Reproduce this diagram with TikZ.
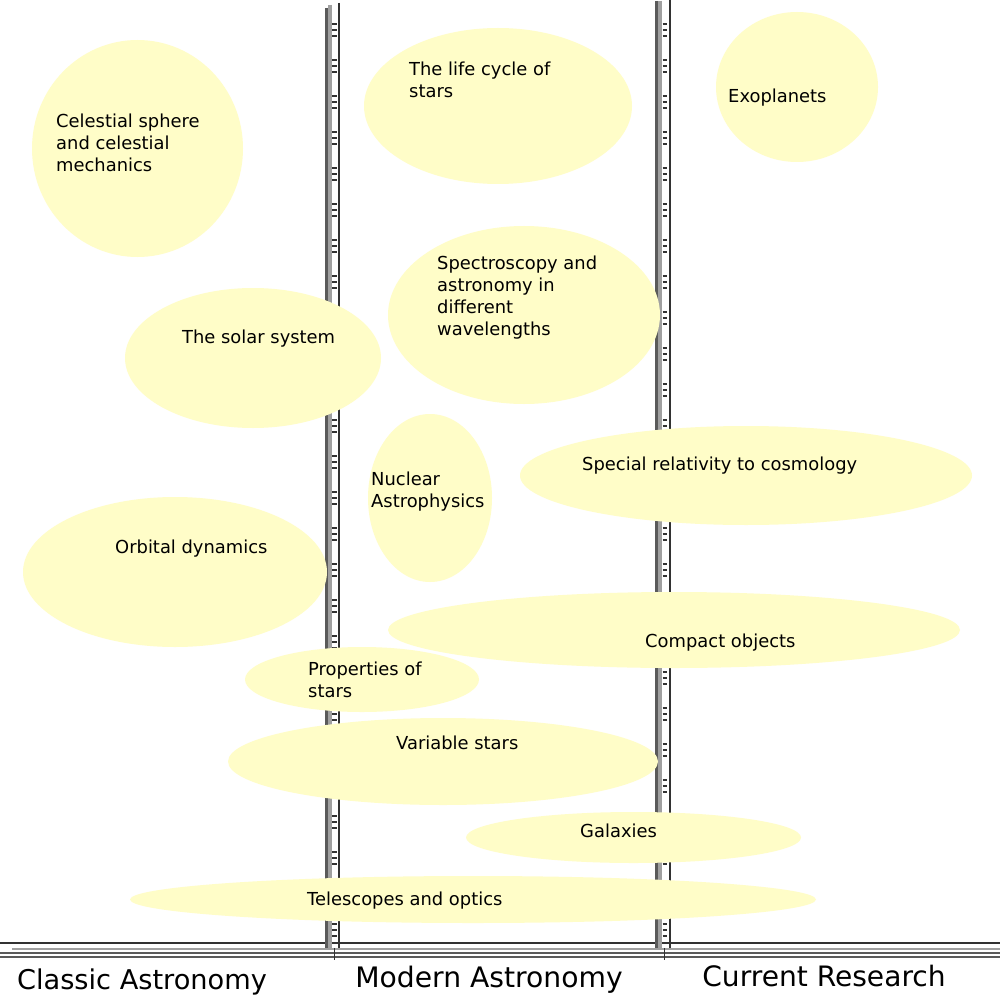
\documentclass[tikz,border=0pt]{standalone}
\usepackage{fontspec}
\setmainfont{DejaVu Sans}
\usetikzlibrary{shapes.geometric}
\definecolor{blobfill}{RGB}{255,253,200}
\definecolor{railA}{RGB}{90,90,90}
\definecolor{railB}{RGB}{160,160,160}
\definecolor{railC}{RGB}{50,50,50}
\tikzset{
  blob/.style={ellipse, fill=blobfill, draw=none, inner sep=0pt},
  lbl/.style={anchor=base west, inner sep=0pt, align=left, font=\fontsize{17.9}{22}\selectfont},
  ttl/.style={anchor=base, inner sep=0pt},
}
\begin{document}
\begin{tikzpicture}[x=1pt,y=-1pt]
\useasboundingbox (0,0) rectangle (1000,1000);
\fill[white] (0,0) rectangle (1000,1000);
% horizontal rails
\draw[railC, line width=2pt] (0,943) -- (1000,943);
\draw[railB, line width=2pt] (12,949) -- (1000,949);
\draw[railA, line width=2pt] (0,953) -- (1000,953);
\draw[railA, line width=1.5pt] (0,957) -- (1000,957);
% left vertical rail
\draw[railA, line width=3pt] (326,8) -- (326,948);
\draw[railB, line width=4pt] (330,5) -- (330,948);
\draw[railC, line width=2.2pt] (339,3) -- (339,948);
\draw[railC, line width=1pt] (334,948) -- (334,960);
% right vertical rail
\draw[railA, line width=3pt] (656,1) -- (656,948);
\draw[railB, line width=4pt] (660,1) -- (660,948);
\draw[railC, line width=2.2pt] (670,0) -- (670,948);
\draw[railC, line width=1pt] (664,948) -- (664,960);
% ticks
\foreach \k in {0,...,25}{
  \foreach \d in {0,6,12}{
    \draw[railC, line width=2pt] (332,24+36*\k+\d) -- (336.5,24+36*\k+\d);
    \draw[railC, line width=2pt] (662.5,24+36*\k+\d) -- (667,24+36*\k+\d);
  }
}
% ellipses
\node[blob, minimum width=211, minimum height=217] (e1) at (137.5,148.5) {};
\node[blob, minimum width=268, minimum height=156] (e2) at (498,106) {};
\node[blob, minimum width=162, minimum height=150] (e3) at (797,87) {};
\node[blob, minimum width=272, minimum height=178] (e4) at (524,315) {};
\node[blob, minimum width=256, minimum height=140] (e5) at (253,358) {};
\node[blob, minimum width=124, minimum height=168] (e6) at (430,498) {};
\node[blob, minimum width=452, minimum height=99] (e7) at (746,475.5) {};
\node[blob, minimum width=304, minimum height=150] (e8) at (175,572) {};
\node[blob, minimum width=572, minimum height=76] (e9) at (674,630) {};
\node[blob, minimum width=234, minimum height=65] (e10) at (362,679.5) {};
\node[blob, minimum width=430, minimum height=87] (e11) at (443,761.5) {};
\node[blob, minimum width=335, minimum height=51] (e12) at (633.5,837.5) {};
\node[blob, minimum width=686, minimum height=47] (e13) at (473,899.5) {};
% labels (base anchor = baseline of last line)
\node[lbl] (t1) at (56,172) {Celestial sphere\\and celestial\\mechanics};
\node[lbl] (t2) at (409,98) {The life cycle of\\stars};
\node[lbl] (t3) at (728,103) {Exoplanets};
\node[lbl] (t4) at (437,335) {Spectroscopy and\\astronomy in\\different\\wavelengths};
\node[lbl] (t5) at (182,343) {The solar system};
\node[lbl] (t6) at (371,507) {Nuclear\\Astrophysics};
\node[lbl] (t7) at (582,470) {Special relativity to cosmology};
\node[lbl] (t8) at (115,553) {Orbital dynamics};
\node[lbl] (t9) at (645,647) {Compact objects};
\node[lbl] (t10) at (308,697) {Properties of\\stars};
\node[lbl] (t11) at (396,749) {Variable stars};
\node[lbl] (t12) at (580,837) {Galaxies};
\node[lbl] (t13) at (307,905) {Telescopes and optics};
% titles
\node[ttl, font=\fontsize{27.2}{30}\selectfont] (c1) at (142,989) {Classic Astronomy};
\node[ttl, font=\fontsize{28.2}{30}\selectfont] (c2) at (489,987) {Modern Astronomy};
\node[ttl, font=\fontsize{28.1}{30}\selectfont] (c3) at (824,986) {Current Research};
\end{tikzpicture}
\end{document}
